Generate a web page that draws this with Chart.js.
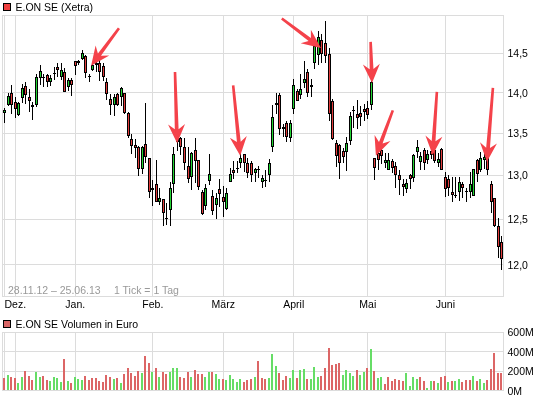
<!DOCTYPE html>
<html><head><meta charset="utf-8">
<script src="https://cdn.jsdelivr.net/npm/chart.js@4"></script>
<style>
html,body{margin:0;padding:0;background:#fff;width:545px;height:401px;overflow:hidden}
canvas{position:absolute;left:0}
.t{position:absolute;font:10.5px "Liberation Sans",Arial,sans-serif;color:#000;white-space:pre;line-height:14px}
.sq{position:absolute;left:3px;width:6px;height:6px;border:1px solid #000}
</style></head><body>
<canvas id="price" width="545" height="320" style="top:0"></canvas>
<canvas id="vol" width="545" height="81" style="top:320px"></canvas>
<div class="sq" style="top:3px;background:#f04040"></div>
<div class="t" style="left:15.5px;top:0px">E.ON SE (Xetra)</div>
<div class="sq" style="top:320px;background:#d96666"></div>
<div class="t" style="left:15.5px;top:317px">E.ON SE Volumen in Euro</div>
<div class="t" style="left:8px;top:283px;color:#999">28.11.12 – 25.06.13</div>
<div class="t" style="left:114px;top:283px;color:#999">1 Tick = 1 Tag</div>
<script>
const opens=[13.75,13.85,13.99,13.88,13.72,13.93,14.08,13.95,13.82,13.85,14.18,14.19,14.22,14.14,14.25,14.32,14.20,14.26,14.07,14.16,14.40,14.37,14.43,14.47,14.21,14.29,14.38,14.38,14.34,14.14,13.92,13.85,13.98,13.94,13.99,13.75,13.43,13.36,13.33,13.07,13.37,13.20,12.85,12.90,12.70,12.73,12.51,12.60,12.90,13.44,13.44,13.33,13.11,12.98,13.30,13.18,12.81,12.65,12.94,12.76,12.66,12.84,12.75,12.62,12.93,13.06,13.09,13.15,13.25,13.15,13.15,13.03,13.07,12.92,12.95,13.00,13.34,13.84,13.97,13.58,13.62,13.44,13.80,14.02,13.97,14.12,14.26,14.09,14.37,14.48,14.68,14.63,14.49,13.89,13.38,13.36,13.29,13.28,13.41,13.79,13.74,13.75,13.80,13.81,13.84,13.20,13.26,13.30,13.15,13.06,13.17,13.11,13.00,12.90,12.84,13.00,12.97,13.27,13.16,13.30,13.18,13.29,13.30,13.15,13.31,12.98,12.96,12.81,12.78,12.81,12.90,12.82,12.81,12.76,13.18,13.06,13.18,13.21,12.90,12.74,12.42,12.25];
const highs=[13.81,13.99,14.09,13.95,13.88,14.11,14.13,14.04,13.88,14.24,14.35,14.24,14.24,14.22,14.32,14.37,14.37,14.31,14.19,14.18,14.40,14.41,14.54,14.48,14.24,14.37,14.41,14.41,14.37,14.18,13.98,13.98,13.99,14.07,14.00,13.76,13.49,13.43,13.35,13.35,13.87,13.20,12.95,13.18,12.85,12.73,12.68,12.93,13.33,13.50,13.46,13.44,13.33,13.27,13.44,13.18,12.83,12.90,13.25,12.83,12.80,12.96,12.88,12.86,13.09,13.17,13.17,13.26,13.25,13.21,13.17,13.09,13.11,13.00,13.06,13.19,13.84,13.99,13.99,13.61,13.65,13.66,14.17,14.05,14.24,14.40,14.30,14.17,14.63,14.79,14.76,14.92,14.57,13.92,13.42,13.37,13.32,13.45,13.76,13.83,13.91,13.83,13.86,13.90,14.15,13.20,13.28,13.32,13.26,13.26,13.19,13.16,13.06,12.96,12.96,13.02,13.25,13.42,13.27,13.32,13.30,13.32,13.38,13.26,13.32,13.04,13.00,12.98,12.98,12.98,12.93,12.86,13.04,13.08,13.19,13.27,13.26,13.26,12.94,12.74,12.51,12.31];
const lows=[13.62,13.83,13.74,13.69,13.71,13.87,13.86,13.76,13.66,13.82,14.09,14.07,14.07,14.08,14.16,14.20,14.16,14.01,14.02,13.96,14.22,14.35,14.41,14.19,14.13,14.27,14.26,14.15,14.15,13.91,13.72,13.71,13.83,13.83,13.74,13.44,13.25,13.21,12.99,13.02,13.15,12.74,12.65,12.70,12.66,12.42,12.44,12.42,12.80,13.29,13.24,13.06,12.91,12.83,12.91,12.83,12.55,12.60,12.89,12.55,12.50,12.64,12.53,12.61,12.93,12.96,13.03,13.09,13.04,12.97,12.92,12.92,12.97,12.86,12.87,12.92,13.27,13.73,13.48,13.46,13.39,13.39,13.74,13.89,13.92,14.06,13.95,13.95,14.30,14.35,14.37,14.37,13.65,13.42,13.10,12.96,13.14,13.05,13.36,13.56,13.55,13.59,13.65,13.67,13.78,12.95,13.06,13.13,13.09,13.06,13.03,12.86,12.78,12.76,12.80,12.84,12.93,13.20,13.06,13.06,13.13,13.19,13.14,13.10,13.06,12.75,12.76,12.69,12.74,12.71,12.74,12.70,12.74,12.76,12.92,13.04,13.08,13.00,12.57,12.41,12.07,11.95];
const closes=[13.79,13.96,13.85,13.80,13.87,14.06,13.97,13.89,13.84,14.20,14.27,14.20,14.14,14.19,14.24,14.28,14.29,14.01,14.16,14.09,14.34,14.40,14.50,14.25,14.20,14.35,14.35,14.26,14.20,13.98,13.84,13.95,13.84,14.06,13.75,13.47,13.35,13.32,13.07,13.33,13.22,12.81,12.83,12.70,12.74,12.57,12.50,12.85,13.25,13.40,13.33,13.14,12.96,13.26,13.17,12.87,12.56,12.86,13.02,12.59,12.74,12.79,12.69,12.80,13.02,13.03,13.07,13.20,13.15,13.03,13.01,13.08,13.06,12.97,12.94,13.15,13.70,13.87,13.55,13.55,13.45,13.62,14.09,13.90,14.05,14.17,14.00,14.07,14.59,14.71,14.49,14.46,13.74,13.43,13.23,13.14,13.22,13.38,13.71,13.78,13.68,13.70,13.76,13.72,14.13,13.09,13.18,13.23,13.18,13.18,13.09,13.00,12.95,12.87,12.91,12.96,13.24,13.34,13.23,13.14,13.25,13.24,13.17,13.19,13.06,12.84,12.85,12.77,12.77,12.92,12.86,12.81,12.90,13.08,13.02,13.20,13.22,13.06,12.69,12.42,12.19,12.06];
const volumes=[131,162,141,131,81,141,202,152,111,192,141,152,111,101,141,131,91,323,101,81,141,121,111,152,111,131,131,101,91,162,141,121,131,81,172,232,182,152,202,182,354,283,192,232,141,192,172,192,232,232,141,131,192,141,212,172,172,141,192,192,172,121,121,111,162,121,91,121,91,111,121,141,303,131,121,131,374,253,182,111,152,131,212,131,212,222,121,121,243,141,152,232,445,263,273,283,162,212,182,152,212,162,192,232,425,202,131,141,71,141,101,121,111,101,182,51,141,121,141,101,30,101,101,81,141,152,91,101,101,121,91,111,111,152,101,121,81,111,222,384,182,182];
const volumeDirs=("rgrrggrrrg"+"grrggggrgr"+"gggrrrrrrr"+"rgrgrrrrrg"+"rrgrgrrggg"+"rrrgrrrggr"+"ggrgggggrr"+"rgrrrgggrr"+"rggrggrggg"+"rrrrrrgggg"+"rggrgrggrr"+"rrrrggggrr"+"ggrgrrgrgg"+"rrrgrggrrr"+"rr").split("");
const yTicks=[12,12.5,13,13.5,14,14.5,15];
const yLabels=["12,0","12,5","13,0","13,5","14,0","14,5",""];
const monthIdx=[0,3,20,42,62,82,103,125];
const monthLabels=["","Dez.","Jan.","Feb.","März","April","Mai","Juni"];
const volTicks=[0,200,400,600];
const arrowTails=[[32.4,14.83],[48.3,14.26],[64.8,14.09],[78.6,14.96],[103.8,14.65],[110.1,13.78],[122.6,14.01],[138.5,14.06]];
const arrowTips=[[24.5,14.34],[48.9,13.38],[66.8,13.23],[89.7,14.57],[104.2,14.12],[105.3,13.23],[121.4,13.24],[136.8,13.16]];

const GRID='#dcdcdc', FONTFAM='"Liberation Sans",Arial,sans-serif';
Chart.defaults.font.family=FONTFAM;Chart.defaults.font.size=10.5;Chart.defaults.color='#000';
const ids=opens.map((_,i)=>i);

const snap={id:'snap',beforeDatasetsDraw(c){
  c.data.datasets.forEach((d,n)=>{c.getDatasetMeta(n).data.forEach(el=>{
    el.x=d.snapOdd?Math.floor(el.x)+.5:Math.floor(el.x);
    let a=Math.round(Math.min(el.y,el.base)),b=Math.round(Math.max(el.y,el.base));
    if(b-a<1)b=a+1;
    el.y=a;el.base=b;
  });});
}};
const frame={id:'frame',beforeDatasetsDraw(c){
  const a=c.chartArea,x=c.ctx;x.save();x.strokeStyle=GRID;x.lineWidth=1;
  const t=Math.floor(a.top)+.5,b=Math.floor(a.bottom)+.5;
  x.strokeRect(2.5,t,501,b-t);x.restore();
}};
const arrows={id:'arrows',afterDatasetsDraw(c){
  const X=c.scales.x,Y=c.scales.y,x=c.ctx;x.save();x.fillStyle='#f4424a';
  arrowTails.forEach((t,k)=>{
    const x0=X.getPixelForValue(t[0]),y0=Y.getPixelForValue(t[1]),
          x1=X.getPixelForValue(arrowTips[k][0]),y1=Y.getPixelForValue(arrowTips[k][1]);
    const L=Math.hypot(x1-x0,y1-y0),ux=(x1-x0)/L,uy=(y1-y0)/L,nx=-uy,ny=ux;
    const P=(along,side)=>[x1-ux*along+nx*side,y1-uy*along+ny*side];
    const pts=[P(L,-1.3),P(L,1.3),P(14,1.9),P(19,8.5),P(0,0),P(19,-8.5),P(14,-1.9)];
    x.beginPath();pts.forEach((p,i)=>i?x.lineTo(p[0],p[1]):x.moveTo(p[0],p[1]));x.closePath();x.fill();
  });x.restore();
}};

new Chart(document.getElementById('price'),{
  type:'bar',
  data:{labels:ids,datasets:[
    {label:'Spanne',data:ids.map(i=>[lows[i],highs[i]]),backgroundColor:'#000',borderWidth:0,inflateAmount:0,barThickness:1,order:2,snapOdd:true},
    {label:'E.ON SE (Xetra)',data:ids.map(i=>[opens[i],closes[i]]),backgroundColor:ids.map(i=>closes[i]>=opens[i]?'#22d433':'#e23c3c'),borderColor:'#000',borderWidth:1,borderSkipped:false,inflateAmount:0,barThickness:3,order:1,snapOdd:true}
  ]},
  plugins:[snap,frame,arrows],
  options:{responsive:false,animation:false,devicePixelRatio:1,
    layout:{padding:{left:3,top:15.5}},
    datasets:{bar:{grouped:false}},
    plugins:{legend:{display:false},tooltip:{enabled:false},title:{display:false}},
    scales:{
      x:{type:'category',offset:true,
        grid:{offset:false,color:GRID,lineWidth:1,drawTicks:false},border:{display:false},
        afterBuildTicks(a){a.ticks=monthIdx.map(v=>({value:v}));},
        afterFit(a){a.height=23.5;},
        ticks:{autoSkip:false,maxRotation:0,minRotation:0,padding:2,color:'#000',callback:(v,i)=>monthLabels[i]}},
      y:{type:'logarithmic',position:'right',min:11.666,max:15,
        grid:{color:GRID,lineWidth:1,drawTicks:false},border:{display:false},
        afterBuildTicks(a){a.ticks=yTicks.map(v=>({value:v}));},
        afterFit(a){a.width=41.5;},
        ticks:{autoSkip:false,padding:4,labelOffset:1,color:'#000',callback:(v,i)=>yLabels[i]}}
    }}
});

new Chart(document.getElementById('vol'),{
  type:'bar',
  data:{labels:ids,datasets:[
    {label:'E.ON SE Volumen in Euro',data:volumes,backgroundColor:volumeDirs.map(d=>d==='g'?'#66dd66':'#dc6666'),borderWidth:0,inflateAmount:0,barThickness:2,snapOdd:false}
  ]},
  plugins:[snap,frame],
  options:{responsive:false,animation:false,devicePixelRatio:1,
    layout:{padding:{left:3,top:12.5}},
    plugins:{legend:{display:false},tooltip:{enabled:false}},
    scales:{
      x:{type:'category',offset:true,
        grid:{offset:false,color:GRID,lineWidth:1,drawTicks:false},border:{display:false},
        afterBuildTicks(a){a.ticks=monthIdx.map(v=>({value:v}));},
        afterFit(a){a.height=8.5;},
        ticks:{display:false}},
      y:{position:'right',min:0,max:600,
        grid:{color:GRID,lineWidth:1,drawTicks:false},border:{display:false},
        afterBuildTicks(a){a.ticks=volTicks.map(v=>({value:v}));},
        afterFit(a){a.width=41.5;},
        ticks:{autoSkip:false,padding:4,labelOffset:1,color:'#000',callback:v=>v+'M'}}
    }}
});
</script>
</body></html>
